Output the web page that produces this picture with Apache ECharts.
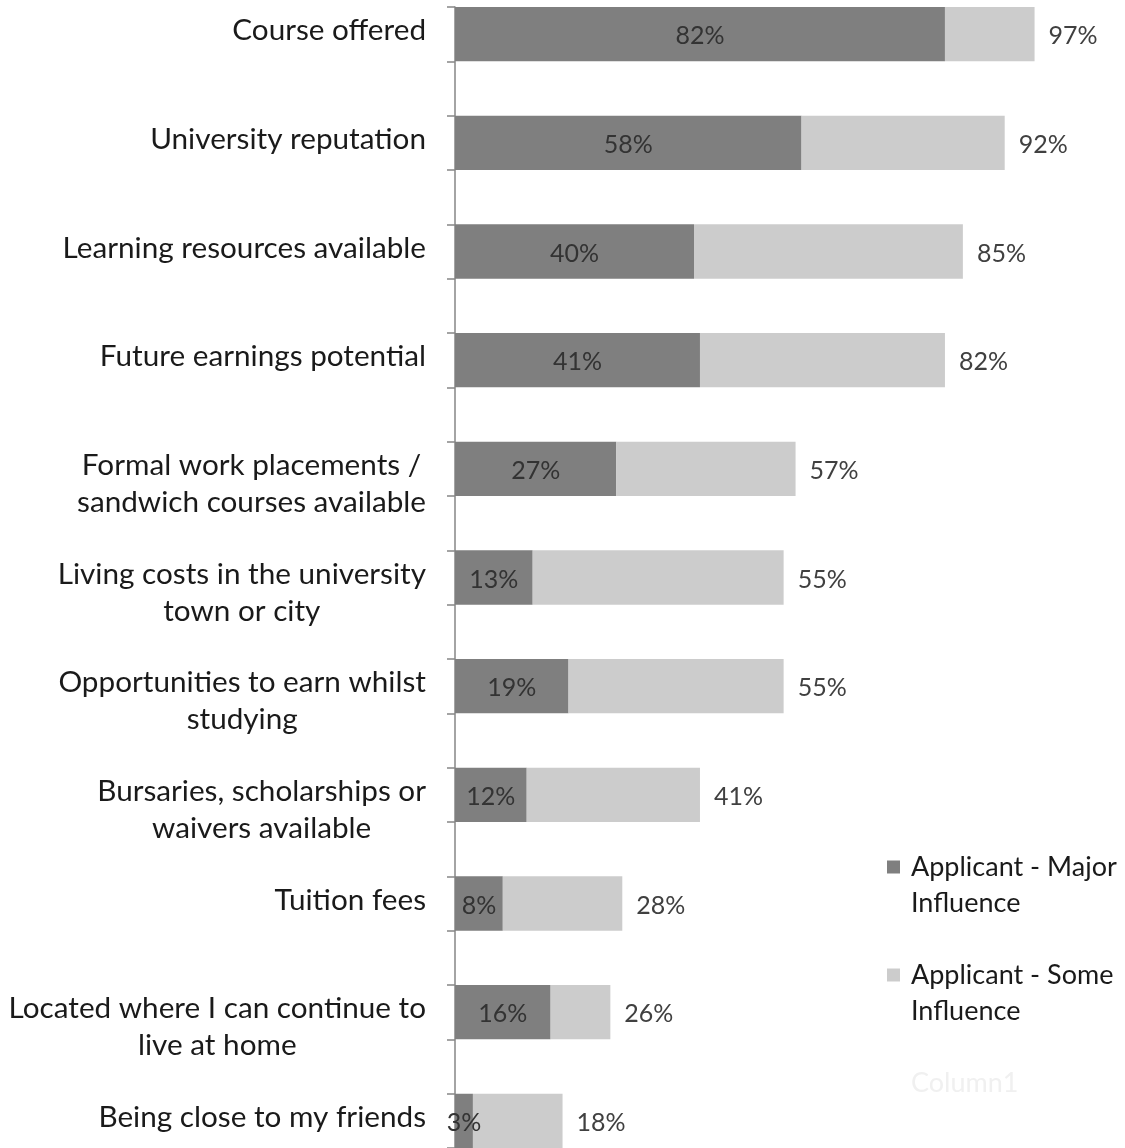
<!DOCTYPE html>
<html>
<head>
<meta charset="utf-8">
<script src="https://cdn.jsdelivr.net/npm/echarts@6/dist/echarts.min.js"></script>
<style>
html,body{margin:0;padding:0;background:#fff;}
#chart{width:1125px;height:1148px;}
</style>
</head>
<body>
<div id="chart"></div>
<script>
const categories = [
  'Course offered',
  'University reputation',
  'Learning resources available',
  'Future earnings potential',
  'Formal work placements /\nsandwich courses available',
  'Living costs in the university\ntown or city',
  'Opportunities to earn whilst\nstudying',
  'Bursaries, scholarships or\nwaivers available',
  'Tuition fees',
  'Located where I can continue to\nlive at home',
  'Being close to my friends'
];
const majorInfluence = [82, 58, 40, 41, 27, 13, 19, 12, 8, 16, 3];
const totalInfluence = [97, 92, 85, 82, 57, 55, 55, 41, 28, 26, 18];
const seriesNames = ['Applicant - Major Influence', 'Applicant - Some Influence', 'Column1'];
const legendLabels = ['\nApplicant - Major\nInfluence', '\nApplicant - Some\nInfluence', '\nColumn1\n'];

const FONT = 'Lato';
const axisData = [];
const majorData = [];
const someData = [];
categories.forEach((c, i) => {
  axisData.push(c);
  majorData.push(majorInfluence[i]);
  someData.push(totalInfluence[i] - majorInfluence[i]);
  if (i < categories.length - 1) {
    axisData.push('');
    majorData.push('-');
    someData.push('-');
  }
});
const emptyData = axisData.map(() => '-');

const chart = echarts.init(document.getElementById('chart'), null, {renderer: 'canvas'});
chart.setOption({
  animation: false,
  backgroundColor: '#ffffff',
  grid: {left: 455, right: 72.5, top: 7, bottom: 0, containLabel: false, outerBoundsMode: 'none'},
  xAxis: {
    type: 'value', min: 0, max: 100, show: false
  },
  yAxis: {
    type: 'category',
    data: axisData,
    inverse: true,
    axisLine: {show: true, lineStyle: {color: '#868686', width: 1.5}},
    axisTick: {show: true, interval: 0, length: 8, lineStyle: {color: '#868686', width: 1.5}},
    splitLine: {show: false},
    axisLabel: {
      interval: 0,
      margin: 29,
      verticalAlign: 'top',
      padding: [-22, 0, 0, 0],
      formatter: v => v === '' ? '' : v.split('\n').map(l => '{c|' + l + '}').join('\n'),
      rich: {
        c: {align: 'center', fontFamily: FONT, fontSize: 29.7, color: '#1a1a1a', lineHeight: 37}
      }
    }
  },
  legend: {
    orient: 'vertical',
    left: 887,
    top: 813,
    padding: 0,
    itemGap: 0,
    itemWidth: 13,
    itemHeight: 13,
    icon: 'rect',
    data: [
      {name: seriesNames[0]},
      {name: seriesNames[1]},
      {name: seriesNames[2], itemStyle: {color: '#ffffff', opacity: 0}, textStyle: {color: '#f0f0f0'}}
    ],
    formatter: name => legendLabels[seriesNames.indexOf(name)],
    textStyle: {fontFamily: FONT, fontSize: 27, color: '#1a1a1a', lineHeight: 36, padding: [0, 0, 0, 6]}
  },
  series: [
    {
      name: seriesNames[0],
      type: 'bar',
      stack: 'total',
      barCategoryGap: '0%',
      barWidth: '100%',
      data: majorData,
      itemStyle: {color: '#7f7f7f'},
      label: {
        show: true,
        position: 'inside',
        offset: [0, 2],
        formatter: p => p.value + '%',
        fontFamily: FONT, fontSize: 25, color: '#333333'
      }
    },
    {
      name: seriesNames[1],
      type: 'bar',
      stack: 'total',
      barCategoryGap: '0%',
      barWidth: '100%',
      data: someData,
      itemStyle: {color: '#cccccc'},
      label: {
        show: true,
        position: 'right',
        distance: 14,
        offset: [0, 2],
        formatter: p => totalInfluence[p.dataIndex / 2] + '%',
        fontFamily: FONT, fontSize: 25, color: '#404040'
      }
    },
    {
      name: seriesNames[2],
      type: 'bar',
      stack: 'total',
      data: emptyData,
      itemStyle: {color: '#ffffff'}
    }
  ]
});
</script>
</body>
</html>
